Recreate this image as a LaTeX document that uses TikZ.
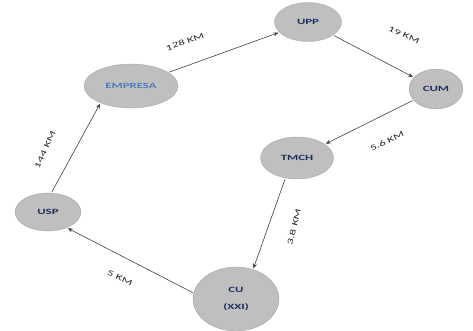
\documentclass[tikz,border=0pt]{standalone}
\usepackage{fontspec}
\setmainfont{Carlito}
\usetikzlibrary{arrows.meta,shapes.geometric}
\definecolor{siteblue}{HTML}{1F2F5C}
\definecolor{empblue}{HTML}{4A7EBB}
\definecolor{sitegray}{HTML}{BFBFBF}
\definecolor{linkgray}{HTML}{404040}
\newcommand{\stretched}[1]{\scalebox{1.6}[1]{#1}}

\begin{document}
\begin{tikzpicture}[x=1pt,y=-1pt,>={Stealth[length=5pt,width=4pt]},
  site/.style={ellipse,fill=sitegray,draw=gray!75,line width=.3pt,inner sep=0pt,
    text=siteblue,font=\fontsize{8}{9}\selectfont\bfseries},
  link/.style={->,linkgray,line width=.6pt,shorten <=1pt,shorten >=1pt},
  dist/.style={font=\fontsize{8}{9}\selectfont,text=black!85,inner sep=1pt}]
\useasboundingbox (0,0) rectangle (473,331);
% sites
\node[site,minimum width=94pt,minimum height=44pt,text=empblue] (emp) at (131,86) {\stretched{EMPRESA}};
\node[site,minimum width=67pt,minimum height=39pt] (upp) at (308,22) {\stretched{UPP}};
\node[site,minimum width=54pt,minimum height=40pt] (cum) at (436,89) {\stretched{CUM}};
\node[site,minimum width=73pt,minimum height=42pt] (tmch) at (297,158) {\stretched{TMCH}};
\node[site,minimum width=86pt,minimum height=64pt,align=center] (cu) at (236,299) {\stretched{CU}\\[8pt]\stretched{(XXI)}};
\node[site,minimum width=66pt,minimum height=38pt] (usp) at (48,212) {\stretched{USP}};
% links
\draw[link] (emp) -- (upp);
\draw[link] (upp) -- (cum);
\draw[link] (cum) -- (tmch);
\draw[link] (tmch.240) -- (cu.60);
\draw[link] (cu.172) -- (usp.-40);
\draw[link] (usp.80) -- (emp.209);
% distances
\node[dist,rotate=19] (d1) at (185,42) {\stretched{128 KM}};
\node[dist,rotate=-25] (d2) at (404,35) {\stretched{19 KM}};
\node[dist,rotate=27] (d3) at (387,141) {\stretched{5.6 KM}};
\node[dist,rotate=76] (d4) at (294,227) {\stretched{3.8 KM}};
\node[dist,rotate=-25] (d5) at (120,278) {\stretched{5 KM}};
\node[dist,rotate=65] (d6) at (45,150) {\stretched{144 KM}};
\end{tikzpicture}
\end{document}
